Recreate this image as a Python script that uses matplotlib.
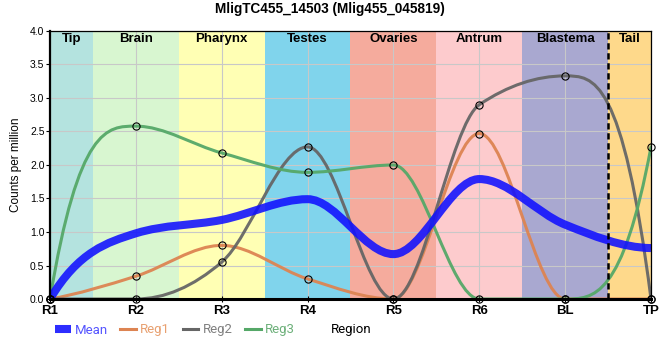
import matplotlib
matplotlib.use("Agg")
import matplotlib.pyplot as plt
import numpy as np
from matplotlib.path import Path
from matplotlib.patches import PathPatch
from matplotlib.lines import Line2D

# ---------------- data ----------------
tick_labels = ['R1', 'R2', 'R3', 'R4', 'R5', 'R6', 'BL', 'TP']
mean_vals = [0.00, 0.98, 1.18, 1.49, 0.67, 1.79, 1.11, 0.76]
reg1_vals = [0.00, 0.34, 0.80, 0.30, 0.00, 2.47, 0.00, 0.00]
reg2_vals = [0.00, 0.00, 0.55, 2.27, 0.00, 2.90, 3.33, 0.00]
reg3_vals = [0.00, 2.58, 2.18, 1.89, 2.00, 0.00, 0.00, 2.27]

band_names = ['Tip', 'Brain', 'Pharynx', 'Testes', 'Ovaries', 'Antrum', 'Blastema', 'Tail']
band_edges = [0, 0.5, 1.5, 2.5, 3.5, 4.5, 5.5, 6.5, 7]
band_colors = ['#b4e3df', '#d8f6d0', '#ffffb4', '#80d4ec', '#f5ab9d', '#fdcbcd', '#a9a8d0', '#fed98b']

title = 'MligTC455_14503 (Mlig455_045819)'

# ---------------- helpers ----------------
def tangents(x, y):
    x = np.asarray(x, float); y = np.asarray(y, float)
    n = len(x)
    h = np.diff(x); s = np.diff(y) / h
    t = np.zeros(n)
    sgn = lambda v: -1.0 if v < 0 else 1.0
    for i in range(1, n - 1):
        p = (s[i - 1] * h[i] + s[i] * h[i - 1]) / (h[i - 1] + h[i])
        t[i] = (sgn(s[i - 1]) + sgn(s[i])) * min(abs(s[i - 1]), abs(s[i]), 0.5 * abs(p))
    t[0] = 3 * s[0] - 2 * t[1]
    t[-1] = 3 * s[-1] - 2 * t[-2]
    return t

def smooth_path(x, y):
    x = np.asarray(x, float); y = np.asarray(y, float)
    t = tangents(x, y)
    verts = [(x[0], y[0])]
    codes = [Path.MOVETO]
    for i in range(len(x) - 1):
        h = x[i + 1] - x[i]
        verts += [(x[i] + h / 3, y[i] + t[i] * h / 3),
                  (x[i + 1] - h / 3, y[i + 1] - t[i + 1] * h / 3),
                  (x[i + 1], y[i + 1])]
        codes += [Path.CURVE4] * 3
    return Path(verts, codes)

# ---------------- figure ----------------
fig = plt.figure(figsize=(6.6, 3.6), dpi=100)
ax = fig.add_axes([50 / 660, 61 / 360, 601 / 660, 268 / 360])
xs = np.arange(len(tick_labels))

for i, name in enumerate(band_names):
    ax.axvspan(band_edges[i], band_edges[i + 1], color=band_colors[i], lw=0, zorder=0)
    ax.text((band_edges[i] + band_edges[i + 1]) / 2, 3.97, name, ha='center', va='top',
            fontsize=9.5, fontweight='bold', family='Liberation Sans', zorder=6)

ax.set_xlim(0, 7)
ax.set_ylim(0, 4)
ax.set_xticks(xs)
ax.set_xticklabels(tick_labels, fontsize=9.5, fontweight='bold', family='Liberation Sans')
ax.set_yticks(np.arange(0, 4.01, 0.5))
ax.set_yticklabels([f'{v:.1f}' for v in np.arange(0, 4.01, 0.5)], fontsize=7.5, family='Liberation Sans')
ax.tick_params(axis='x', length=4, width=0.8, direction='inout', pad=2)
ax.tick_params(axis='y', length=3, width=0.8, pad=1)
ax.grid(True, color='#c8c8c8', lw=0.8, zorder=1)
ax.set_axisbelow(False)
for gl in ax.get_xgridlines() + ax.get_ygridlines():
    gl.set_zorder(1)

ax.axvline(6.5, color='black', lw=1.8, ls=(0, (2.5, 1.5)), zorder=5)

series = [
    ('Reg1', reg1_vals, '#dd8452', '#e8a070'),
    ('Reg2', reg2_vals, '#666666', '#808080'),
    ('Reg3', reg3_vals, '#55a868', '#6db07a'),
]
for name, vals, col, _ in series:
    ax.add_patch(PathPatch(smooth_path(xs, vals), fill=False, edgecolor=col, lw=2.2,
                           alpha=0.95, zorder=3, capstyle='round'))

ax.add_patch(PathPatch(smooth_path(xs, mean_vals), fill=False, edgecolor='#1010ff', lw=5.8,
                       alpha=0.88, zorder=4))

for name, vals, col, _ in series:
    ax.plot(xs, vals, 'o', ms=5.2, mfc='none', mec='black', mew=0.8, zorder=7, clip_on=False)

for side in ['top', 'right']:
    ax.spines[side].set_linewidth(0.9)
ax.spines['left'].set_linewidth(1.6)
ax.spines['bottom'].set_linewidth(2.2)
for sp in ax.spines.values():
    sp.set_zorder(8)

ax.set_ylabel('Counts per million', fontsize=8.5, family='Liberation Sans', labelpad=6)
ax.set_xlabel('Region', fontsize=9.5, family='Roboto')
ax.xaxis.label.set_va('center')
ax.xaxis.set_label_coords((351 - 50) / 601, (299 - 330) / 268)

fig.text(330 / 660, 1 - 9 / 360, title, ha='center', va='center', fontsize=9.8,
         fontweight='bold', family='Liberation Sans')

handles = [Line2D([], [], color='#1010ff', lw=5.8, alpha=0.88, solid_capstyle='butt')]
labels = ['Mean']
label_cols = ['#5555ff']
for name, vals, col, tcol in series:
    handles.append(Line2D([], [], color=col, lw=2.2))
    labels.append(name)
    label_cols.append(tcol)
leg = fig.legend(handles, labels, loc='center left', bbox_to_anchor=(55 / 660, 1 - 330 / 360),
                 ncol=4, frameon=False, prop={'family': 'Roboto', 'size': 9.5},
                 handlelength=1.2, handletextpad=0.3, columnspacing=0.95, borderpad=0,
                 borderaxespad=0)
for txt, c in zip(leg.get_texts(), label_cols):
    txt.set_color(c)

fig.savefig('out.png', dpi=100)
